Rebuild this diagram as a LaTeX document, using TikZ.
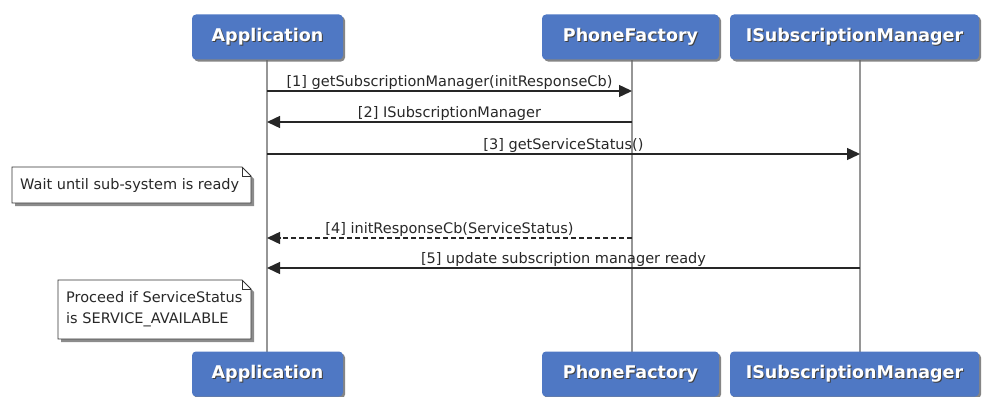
\documentclass[tikz,border=0pt]{standalone}
\usepackage{fontspec}
\setmainfont{DejaVu Sans}
\usetikzlibrary{arrows.meta,shadows,calc}
\definecolor{boxblue}{RGB}{79,120,196}
\definecolor{lifegray}{RGB}{150,150,150}
\definecolor{txt}{RGB}{40,40,40}
\tikzset{
  actor/.style={draw=none, fill=boxblue, rounded corners=4pt, minimum height=45pt, inner sep=0pt,
     drop shadow={shadow xshift=2pt, shadow yshift=-2pt, fill=black!60, opacity=0.8}},
  actorlabel/.style={text=white, font=\bfseries\fontsize{17.5}{20}\selectfont},
  actorshadow/.style={text=black!75, font=\bfseries\fontsize{17.5}{20}\selectfont},
  lifeline/.style={draw=lifegray, line width=1.5pt},
  msg/.style={draw=black!85, line width=1.4pt, -{Triangle[length=13pt,width=12pt]}},
  msgdash/.style={msg, dash pattern=on 5pt off 3pt},
  msglabel/.style={text=txt, font=\fontsize{14.5}{17}\selectfont, inner sep=1pt},
  notetext/.style={text=txt, font=\fontsize{14.5}{21}\selectfont, align=left},
}
\newcommand{\actorbox}[5]{% name, x1, x2, ycenter, label
  \node[actor, minimum width=#3pt-#2pt] (#1) at ({(#2+#3)/2}, #4) {};
  \node[actorshadow] at ($(#1)+(1pt,-1pt)$) {#5};
  \node[actorlabel] (#1t) at (#1) {#5};
}
\begin{document}
\begin{tikzpicture}[x=1pt,y=-1pt]
\useasboundingbox (0,0) rectangle (984,396);
% lifelines
\coordinate (appT) at (267,60); \coordinate (appB) at (267,352);
\coordinate (pfT) at (632,60); \coordinate (pfB) at (632,352);
\coordinate (smT) at (860,60); \coordinate (smB) at (860,352);
\draw[lifeline] (appT) -- (appB);
\draw[lifeline] (pfT) -- (pfB);
\draw[lifeline] (smT) -- (smB);
% actor boxes
\actorbox{appTop}{192}{343}{37}{Application}
\actorbox{pfTop}{542}{719}{37}{PhoneFactory}
\actorbox{smTop}{730}{979}{37}{ISubscriptionManager}
\actorbox{appBot}{192}{343}{374}{Application}
\actorbox{pfBot}{542}{719}{374}{PhoneFactory}
\actorbox{smBot}{730}{979}{374}{ISubscriptionManager}
% message anchor coordinates
\coordinate (a1) at (267,91); \coordinate (p1) at (632,91);
\coordinate (a2) at (267,122); \coordinate (p2) at (632,122);
\coordinate (a3) at (267,154); \coordinate (s3) at (860,154);
\coordinate (a4) at (267,238); \coordinate (p4) at (632,238);
\coordinate (a5) at (267,268); \coordinate (s5) at (860,268);
\draw[msg] (a1) -- node[msglabel, above] {[1] getSubscriptionManager(initResponseCb)} (p1);
\draw[msg] (p2) -- node[msglabel, above] {[2] ISubscriptionManager} (a2);
\draw[msg] (a3) -- node[msglabel, above] {[3] getServiceStatus()} (s3);
\draw[msgdash] (p4) -- node[msglabel, above] {[4] initResponseCb(ServiceStatus)} (a4);
\draw[msg] (s5) -- node[msglabel, above] {[5] update subscription manager ready} (a5);
% notes
\begin{scope}
\fill[black!45] (15,170) -- (245,170) -- (254,179) -- (254,206) -- (15,206) -- cycle;
\draw[black!80, fill=white, line width=0.8pt] (12,167) -- (242,167) -- (251,176) -- (251,203) -- (12,203) -- cycle;
\draw[black!80, line width=0.8pt] (242,167) -- (242,176) -- (251,176);
\node[notetext, anchor=west, inner sep=0pt] (n1) at (20,185) {Wait until sub-system is ready};
\end{scope}
\begin{scope}
\fill[black!45] (61,283) -- (245,283) -- (254,292) -- (254,342) -- (61,342) -- cycle;
\draw[black!80, fill=white, line width=0.8pt] (58,280) -- (242,280) -- (251,289) -- (251,339) -- (58,339) -- cycle;
\draw[black!80, line width=0.8pt] (242,280) -- (242,289) -- (251,289);
\node[notetext, anchor=west, inner sep=0pt] (n2) at (66,309.5) {Proceed if ServiceStatus\\is SERVICE\_AVAILABLE};
\end{scope}
\end{tikzpicture}
\end{document}
